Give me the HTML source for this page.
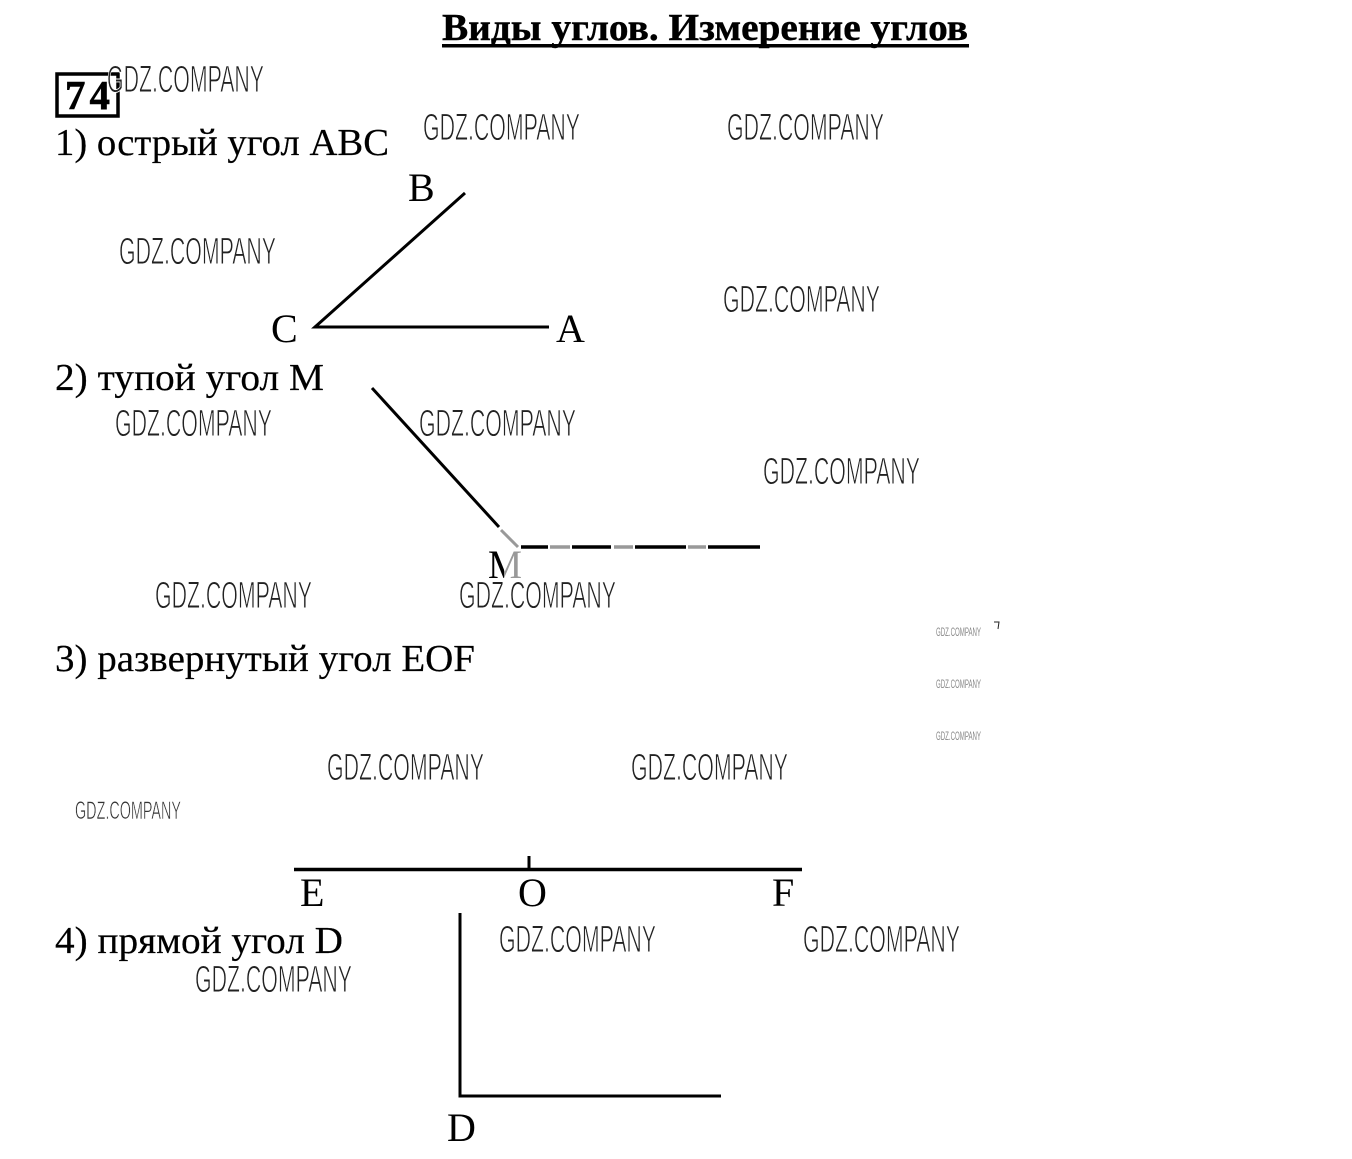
<!DOCTYPE html>
<html lang="ru">
<head>
<meta charset="utf-8">
<title>Виды углов. Измерение углов</title>
<style>
html,body{margin:0;padding:0;background:#fff;}
svg{display:block;}
.t{font-family:"Liberation Serif","Noto Serif CJK SC",serif;font-size:38px;fill:#000;stroke:#000;stroke-width:.2px;}
.l{font-family:"Liberation Serif","Noto Serif CJK SC",serif;font-size:40px;fill:#000;}
.w{font-family:"Liberation Sans",sans-serif;font-size:38px;fill:#222;stroke:#fff;stroke-width:.9px;}
.s{font-family:"Liberation Sans",sans-serif;font-size:25px;fill:#333;stroke:#fff;stroke-width:.6px;}
.x{font-family:"Liberation Sans",sans-serif;font-size:12px;fill:#888;}
</style>
</head>
<body>
<svg width="1352" height="1159" viewBox="0 0 1352 1159" xmlns="http://www.w3.org/2000/svg">
<defs>
<clipPath id="ml"><rect x="480" y="545" width="24" height="40"/></clipPath>
<clipPath id="mr"><rect x="504" y="545" width="24" height="40"/></clipPath>
</defs>
<rect width="1352" height="1159" fill="#fff"/>

<!-- title -->
<text x="442" y="40" font-family="Liberation Serif, serif" font-weight="bold" font-size="38" stroke="#000" stroke-width=".4" textLength="526" lengthAdjust="spacingAndGlyphs">Виды углов. Измерение углов</text>
<rect x="442" y="44" width="527" height="3.5" fill="#000"/>

<!-- 74 box -->
<rect x="57" y="74" width="61" height="42" fill="#fff" stroke="#000" stroke-width="3.500"/>
<text x="65" y="109" font-family="Liberation Serif, serif" font-weight="bold" font-size="41" stroke="#000" stroke-width=".5" textLength="45" lengthAdjust="spacing">74</text>

<!-- headings -->
<text class="t" x="55" y="155" textLength="334" lengthAdjust="spacingAndGlyphs">1) острый угол АВС</text>
<text class="t" x="55" y="390" textLength="269" lengthAdjust="spacingAndGlyphs">2) тупой угол М</text>
<text class="t" x="55" y="671" textLength="420" lengthAdjust="spacingAndGlyphs">3) развернутый угол EOF</text>
<text class="t" x="55" y="953" textLength="288" lengthAdjust="spacingAndGlyphs">4) прямой угол D</text>

<!-- angle 1 -->
<polyline points="465,193 315,327 549,327" fill="none" stroke="#000" stroke-width="3"/>
<text class="l" x="408" y="201">B</text>
<text class="l" x="271" y="342">C</text>
<text class="l" x="556" y="342">A</text>

<!-- angle 2 -->
<text class="l" x="488" y="578" textLength="34" lengthAdjust="spacingAndGlyphs" clip-path="url(#ml)">M</text>
<text class="l" x="488" y="578" textLength="34" lengthAdjust="spacingAndGlyphs" clip-path="url(#mr)" style="fill:#999">M</text>
<line x1="372" y1="388" x2="499" y2="527" stroke="#000" stroke-width="3"/>
<line x1="501" y1="530" x2="518" y2="547" stroke="#999" stroke-width="3"/>
<g stroke-width="3.500">
<line x1="521" y1="547" x2="548" y2="547" stroke="#000"/>
<line x1="550" y1="547" x2="570" y2="547" stroke="#999"/>
<line x1="572" y1="547" x2="611" y2="547" stroke="#000"/>
<line x1="614" y1="547" x2="633" y2="547" stroke="#999"/>
<line x1="635" y1="547" x2="686" y2="547" stroke="#000"/>
<line x1="688" y1="547" x2="706" y2="547" stroke="#999"/>
<line x1="708" y1="547" x2="760" y2="547" stroke="#000"/>
</g>

<!-- angle 3 -->
<line x1="294" y1="869.500" x2="802" y2="869.500" stroke="#000" stroke-width="3.500"/>
<line x1="529" y1="856" x2="529" y2="869" stroke="#000" stroke-width="3"/>
<text class="l" x="300" y="906">E</text>
<text class="l" x="518" y="906">O</text>
<text class="l" x="772" y="906">F</text>

<!-- angle 4 -->
<polyline points="460,913 460,1096 721,1096" fill="none" stroke="#000" stroke-width="3"/>
<text class="l" x="447" y="1141">D</text>

<!-- watermarks -->
<text class="w" x="107" y="92" textLength="157" lengthAdjust="spacingAndGlyphs">GDZ.COMPANY</text>
<text class="w" x="423" y="140" textLength="157" lengthAdjust="spacingAndGlyphs">GDZ.COMPANY</text>
<text class="w" x="727" y="140" textLength="157" lengthAdjust="spacingAndGlyphs">GDZ.COMPANY</text>
<text class="w" x="119" y="264" textLength="157" lengthAdjust="spacingAndGlyphs">GDZ.COMPANY</text>
<text class="w" x="723" y="312" textLength="157" lengthAdjust="spacingAndGlyphs">GDZ.COMPANY</text>
<text class="w" x="115" y="436" textLength="157" lengthAdjust="spacingAndGlyphs">GDZ.COMPANY</text>
<text class="w" x="419" y="436" textLength="157" lengthAdjust="spacingAndGlyphs">GDZ.COMPANY</text>
<text class="w" x="763" y="484" textLength="157" lengthAdjust="spacingAndGlyphs">GDZ.COMPANY</text>
<text class="w" x="155" y="608" textLength="157" lengthAdjust="spacingAndGlyphs">GDZ.COMPANY</text>
<text class="w" x="459" y="608" textLength="157" lengthAdjust="spacingAndGlyphs">GDZ.COMPANY</text>
<text class="w" x="327" y="780" textLength="157" lengthAdjust="spacingAndGlyphs">GDZ.COMPANY</text>
<text class="w" x="631" y="780" textLength="157" lengthAdjust="spacingAndGlyphs">GDZ.COMPANY</text>
<text class="w" x="499" y="952" textLength="157" lengthAdjust="spacingAndGlyphs">GDZ.COMPANY</text>
<text class="w" x="803" y="952" textLength="157" lengthAdjust="spacingAndGlyphs">GDZ.COMPANY</text>
<text class="w" x="195" y="992" textLength="157" lengthAdjust="spacingAndGlyphs">GDZ.COMPANY</text>
<text class="s" x="75" y="819" textLength="106" lengthAdjust="spacingAndGlyphs">GDZ.COMPANY</text>
<text class="x" x="936" y="636" textLength="45" lengthAdjust="spacingAndGlyphs">GDZ.COMPANY</text>
<text class="x" x="936" y="688" textLength="45" lengthAdjust="spacingAndGlyphs">GDZ.COMPANY</text>
<text class="x" x="936" y="740" textLength="45" lengthAdjust="spacingAndGlyphs">GDZ.COMPANY</text>

<!-- small mark top right -->
<polyline points="994,622 999,622 998,629" fill="none" stroke="#222" stroke-width="1"/>
</svg>
</body>
</html>
